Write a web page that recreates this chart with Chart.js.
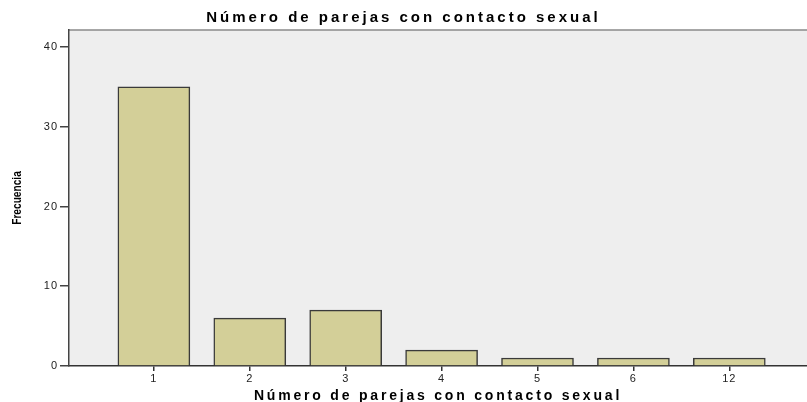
<!DOCTYPE html>
<html>
<head>
<meta charset="utf-8">
<script src="https://cdn.jsdelivr.net/npm/chart.js@4"></script>
<style>
  body { margin: 0; background: #fff; }
  canvas { display: block; }
</style>
</head>
<body>
<canvas id="myChart" width="807" height="402"></canvas>
<script>
// datos
const categorias = ["1", "2", "3", "4", "5", "6", "12"];
const frecuencias = [35, 6, 7, 2, 1, 1, 1];
const yTicks = [0, 10, 20, 30, 40];

const tituloTxt = "Número de parejas con contacto sexual";
const ejeXTxt = "Número de parejas con contacto sexual";
const ejeYTxt = "Frecuencia";

//* letter spacing: Chart.js no lo soporta, envolvemos los metodos de dibujo
function spaced(obj, name, px) {
  const orig = obj[name];
  if (!orig || orig._sp) return;
  const f = function (...args) {
    const c = this.ctx;
    const prev = c.letterSpacing;
    c.letterSpacing = px;
    orig.apply(this, args);
    c.letterSpacing = prev;
  };
  f._sp = true;
  obj[name] = f;
}

//? titulo del eje Y estrecho (tipo Arial Narrow)
function narrow(scale, k) {
  const orig = scale.drawTitle;
  if (!orig || orig._nw) return;
  const f = function (...args) {
    const c = this.ctx;
    const cy = (this.top + this.bottom) / 2;
    c.save();
    c.translate(0, cy);
    c.scale(1, k);
    c.translate(0, -cy);
    orig.apply(this, args);
    c.restore();
  };
  f._nw = true;
  scale.drawTitle = f;
}

const fondoPlugin = {
  id: "fondo",
  afterUpdate(chart) {
    if (chart.titleBlock) spaced(chart.titleBlock, "draw", "3px");
    spaced(chart.scales.x, "drawLabels", "1px");
    spaced(chart.scales.x, "drawTitle", "2.8px");
    spaced(chart.scales.y, "drawLabels", "1px");
    narrow(chart.scales.y, 0.78);
  },
  beforeDraw(chart) {
    const { ctx, chartArea } = chart;
    ctx.save();
    ctx.fillStyle = "#eeeeee";
    ctx.fillRect(chartArea.left, chartArea.top, chartArea.right - chartArea.left, chartArea.bottom - chartArea.top);
    ctx.strokeStyle = "#8a8a8a";
    ctx.lineWidth = 1.5;
    ctx.beginPath();
    ctx.moveTo(chartArea.left, chartArea.top);
    ctx.lineTo(chartArea.right, chartArea.top);
    ctx.stroke();
    ctx.restore();
  },
};

const ctx = document.querySelector("#myChart").getContext("2d");

const data = {
  datasets: [
    {
      data: frecuencias.map((v, i) => ({ x: i + 1, y: v })),
      backgroundColor: "#d3cf98",
      borderColor: "#3a3a3a",
      borderWidth: 1.5,
      barThickness: 72,
    },
  ],
};

const config = {
  type: "bar",
  data: data,
  plugins: [fondoPlugin],
  options: {
    responsive: false,
    animation: false,
    layout: { padding: { left: 0, right: 0, top: 0, bottom: 0 } },
    plugins: {
      legend: { display: false },
      tooltip: { enabled: false },
      title: {
        display: true,
        text: tituloTxt,
        color: "#000",
        font: { family: "Liberation Sans", size: 15, weight: "bold", lineHeight: 1.2 },
        padding: { top: 9, bottom: 3 },
      },
    },
    scales: {
      x: {
        type: "linear",
        min: 0.115,
        max: 7.81,
        offset: false,
        afterBuildTicks: (scale) => {
          scale.ticks = categorias.map((c, i) => ({ value: i + 1 }));
        },
        afterFit: (scale) => {
          scale.height = 36;
        },
        ticks: {
          color: "#222",
          font: { family: "Liberation Sans", size: 11 },
          padding: 1,
          maxRotation: 0,
          callback: (value) => categorias[value - 1],
        },
        grid: {
          offset: false,
          drawOnChartArea: false,
          drawTicks: true,
          tickLength: 5,
          color: "#333",
          lineWidth: 1.5,
        },
        border: { display: true, color: "#333", width: 1.5 },
        title: {
          display: true,
          text: ejeXTxt,
          color: "#000",
          font: { family: "Liberation Sans", size: 14, weight: "bold", lineHeight: 1.2 },
          padding: { top: 0, bottom: -3 },
        },
      },
      y: {
        min: 0,
        max: 42.13,
        afterBuildTicks: (scale) => {
          scale.ticks = yTicks.map((v) => ({ value: v }));
        },
        afterFit: (scale) => {
          scale.width = 69;
        },
        ticks: {
          color: "#222",
          font: { family: "Liberation Sans", size: 11 },
          padding: 2,
        },
        grid: {
          drawOnChartArea: false,
          drawTicks: true,
          tickLength: 9,
          color: "#444",
          lineWidth: 1.5,
        },
        border: { display: true, color: "#444", width: 1.5 },
        title: {
          display: true,
          text: ejeYTxt,
          color: "#000",
          font: { family: "Liberation Sans", size: 13, weight: "bold", lineHeight: 1.2 },
          padding: { top: 10, bottom: 0 },
        },
      },
    },
  },
};

const myChart = new Chart(ctx, config);
</script>
</body>
</html>
